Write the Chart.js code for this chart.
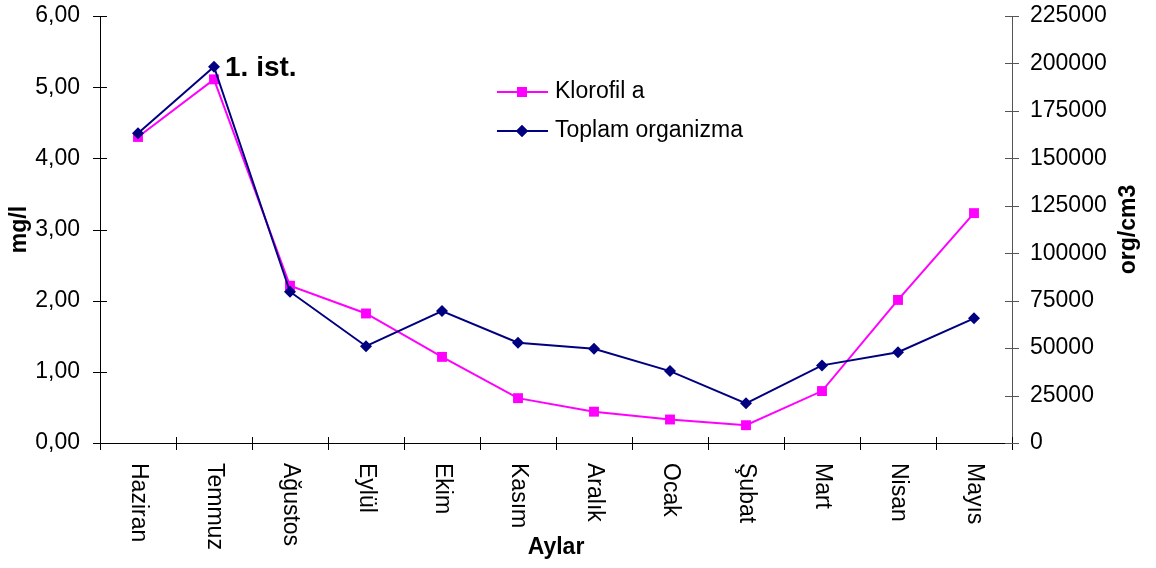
<!DOCTYPE html>
<html lang="tr">
<head>
<meta charset="UTF-8">
<title>Klorofil a ve Toplam organizma</title>
<script src="https://cdn.jsdelivr.net/npm/chart.js@4.4.1/dist/chart.umd.min.js"></script>
<style>
body {
margin: 0;
padding: 0;
background-color: #fff;
}
.wrap {
width: 1156px;
height: 568px;
position: relative;
}
</style>
</head>
<body>
<div class="wrap">
<canvas id="chart"></canvas>
</div>
<script>
// data
const months = ['Haziran', 'Temmuz', 'Ağustos', 'Eylül', 'Ekim', 'Kasım', 'Aralık', 'Ocak', 'Şubat', 'Mart', 'Nisan', 'Mayıs'];
const klorofil = [4.30, 5.11, 2.21, 1.82, 1.21, 0.63, 0.44, 0.33, 0.25, 0.73, 2.01, 3.23];
const toplam = [163200, 198300, 79700, 51000, 69500, 52800, 49700, 37900, 20900, 40900, 47800, 65700];
const leftTicks = [0, 1, 2, 3, 4, 5, 6];
const rightTicks = [0, 25000, 50000, 75000, 100000, 125000, 150000, 175000, 200000, 225000];

const FONT = '"Liberation Sans", Arial, sans-serif';
const MAGENTA = '#ff00ff';
const NAVY = '#000080';

Chart.defaults.font.family = FONT;
Chart.defaults.font.size = 23;
Chart.defaults.color = '#000';

// ticks crossing the axes, rotated month names, titles, legend and the note
const decor = {
id: 'decor',
afterDraw(chart) {
const ctx = chart.ctx;
const x = chart.scales.x;
const y = chart.scales.y;
const y1 = chart.scales.y1;
ctx.save();
ctx.lineWidth = 1;
ctx.strokeStyle = '#000';
ctx.beginPath();
for (let i = 0; i <= months.length; i++) {
const px = Math.round(x.getPixelForValue(i - 0.5)) + 0.5;
ctx.moveTo(px, y.bottom - 6);
ctx.lineTo(px, y.bottom + 7);
}
leftTicks.forEach(v => {
const py = Math.round(y.getPixelForValue(v)) + 0.5;
ctx.moveTo(x.left - 7, py);
ctx.lineTo(x.left + 7, py);
});
ctx.stroke();
ctx.strokeStyle = '#555';
ctx.beginPath();
rightTicks.forEach(v => {
const py = Math.round(y1.getPixelForValue(v)) + 0.5;
ctx.moveTo(x.right - 7, py);
ctx.lineTo(x.right + 7, py);
});
ctx.stroke();

// month names, turned clockwise
ctx.fillStyle = '#000';
ctx.font = '23px ' + FONT;
ctx.textAlign = 'left';
ctx.textBaseline = 'middle';
months.forEach((m, i) => {
ctx.save();
ctx.translate(x.getPixelForValue(i), y.bottom + 20);
ctx.rotate(Math.PI / 2);
ctx.fillText(m, 0, 0);
ctx.restore();
});

// axis titles
ctx.font = 'bold 23px ' + FONT;
ctx.textAlign = 'center';
ctx.fillText('Aylar', (x.left + x.right) / 2, 548);
const midY = (y.top + y.bottom) / 2;
ctx.save();
ctx.translate(20, midY);
ctx.rotate(-Math.PI / 2);
ctx.fillText('mg/l', 0, 0);
ctx.restore();
ctx.save();
ctx.translate(1129, midY);
ctx.rotate(-Math.PI / 2);
ctx.fillText('org/cm3', 0, 0);
ctx.restore();

// legend
const items = [
{ label: 'Klorofil a', color: MAGENTA, style: 'rect', r: 7, y: 92 },
{ label: 'Toplam organizma', color: NAVY, style: 'rectRot', r: 6, y: 131 }
];
items.forEach(it => {
ctx.strokeStyle = it.color;
ctx.lineWidth = 2;
ctx.beginPath();
ctx.moveTo(497, it.y);
ctx.lineTo(548, it.y);
ctx.stroke();
ctx.fillStyle = it.color;
Chart.helpers.drawPoint(ctx, { pointStyle: it.style, radius: it.r, borderWidth: 0 }, 522, it.y);
ctx.fill();
ctx.fillStyle = '#000';
ctx.font = '23px ' + FONT;
ctx.textAlign = 'left';
ctx.fillText(it.label, 555, it.y);
});

// note next to the Temmuz point
ctx.font = 'bold 28px ' + FONT;
ctx.textAlign = 'left';
ctx.fillText('1. ist.', x.getPixelForValue(1) + 11, y1.getPixelForValue(toplam[1]) + 2);
ctx.restore();
}
};

// fixed widths for the side axes, no extra room above the plot
function fixSide(width) {
return function (scale) {
scale.width = width;
scale.paddingTop = 0;
scale.paddingBottom = 0;
};
}

new Chart(document.getElementById('chart'), {
type: 'line',
data: {
labels: months,
datasets: [
{
label: 'Klorofil a',
data: klorofil,
yAxisID: 'y',
borderColor: MAGENTA,
backgroundColor: MAGENTA,
borderWidth: 2,
pointStyle: 'rect',
pointRadius: 7,
pointHoverRadius: 7,
pointBorderWidth: 0,
tension: 0,
order: 1
},
{
label: 'Toplam organizma',
data: toplam,
yAxisID: 'y1',
borderColor: NAVY,
backgroundColor: NAVY,
borderWidth: 2,
pointStyle: 'rectRot',
pointRadius: 6,
pointHoverRadius: 6,
pointBorderWidth: 0,
tension: 0,
order: 0
}
]
},
options: {
responsive: true,
maintainAspectRatio: false,
animation: false,
layout: { padding: { top: 16, left: 0, right: 0, bottom: 0 } },
plugins: {
legend: { display: false },
tooltip: { enabled: false }
},
scales: {
x: {
type: 'category',
offset: true,
grid: { display: false },
border: { display: true, color: '#000', width: 1 },
ticks: { display: false },
afterFit(scale) {
scale.height = 125;
scale.paddingLeft = 0;
scale.paddingRight = 0;
}
},
y: {
position: 'left',
min: 0,
max: 6,
grid: { display: false },
border: { display: true, color: '#000', width: 1 },
ticks: {
stepSize: 1,
padding: 12,
callback: v => v.toFixed(2).replace('.', ',')
},
afterFit: fixSide(100)
},
y1: {
position: 'right',
min: 0,
max: 225000,
grid: { display: false },
border: { display: true, color: '#555', width: 1 },
ticks: {
stepSize: 25000,
padding: 10,
callback: v => String(v)
},
afterFit: fixSide(144)
}
}
},
plugins: [decor]
});
</script>
</body>
</html>
